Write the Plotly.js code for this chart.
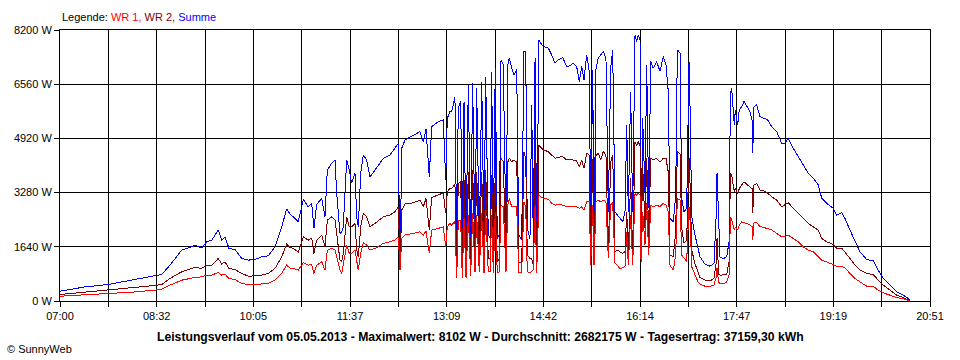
<!DOCTYPE html>
<html>
<head>
<meta charset="utf-8">
<script src="https://cdn.plot.ly/plotly-3.0.1.min.js"></script>
<style>
html,body{margin:0;padding:0;background:#fff;}
#chart{width:960px;height:360px;}
#chart .scatterlayer path.js-line{shape-rendering:crispEdges;}
</style>
</head>
<body>
<div id="chart"></div>
<script>
const time = [
"07:00:00","07:23:55","07:46:05","08:08:30","08:30:45","08:37:10","08:45:05","08:56:15","09:09:00","09:15:20",
"09:20:05","09:25:00","09:31:10","09:34:30","09:37:35","09:41:25","09:47:10","09:53:35","09:59:50","10:06:15",
"10:12:40","10:19:00","10:25:20","10:31:45","10:36:30","10:39:40","10:42:50","10:47:35","10:52:25","10:57:10",
"11:00:25","11:02:35","11:05:10","11:10:00","11:13:05","11:15:20","11:19:30","11:22:40","11:24:20","11:27:25",
"11:29:05","11:30:35","11:33:50","11:36:20","11:38:35","11:41:45","11:43:25","11:44:55","11:47:15","11:49:40",
"11:52:55","11:56:05","12:00:55","12:08:50","12:15:15","12:20:00","12:23:10","12:24:45","12:26:25","12:29:30",
"12:37:30","12:43:50","12:47:00","12:49:35","12:52:45","12:55:00","13:01:20","13:06:05","13:08:25","13:09:55",
"13:12:30","13:14:10","13:17:15","13:18:55","13:20:25","13:22:45","13:24:15","13:25:55","13:27:50","13:30:00",
"13:32:15","13:34:10","13:36:25","13:38:00","13:40:30","13:42:50","13:45:00","13:46:35","13:49:05","13:50:45",
"13:52:20","13:53:55","13:55:45","13:57:40","13:59:35","14:01:15","14:03:25","14:06:00","14:07:40","14:09:10",
"14:11:25","14:13:40","14:16:15","14:18:10","14:21:00","14:23:10","14:24:50","14:26:20","14:28:55","14:30:35",
"14:32:05","14:33:45","14:35:20","14:37:30","14:39:10","14:41:40","14:46:25","14:49:40","14:52:50","14:56:00",
"15:00:10","15:04:00","15:07:10","15:10:15","15:13:30","15:16:00","15:18:20","15:20:30","15:23:05","15:25:35",
"15:26:55","15:28:50","15:30:05","15:32:00","15:34:10","15:36:30","15:38:55","15:41:30","15:43:45","15:46:00",
"15:47:55","15:50:05","15:52:20","15:54:55","15:57:30","15:59:40","16:01:20","16:02:50","16:05:05","16:07:00",
"16:09:15","16:10:50","16:12:20","16:14:00","16:15:00","16:16:35","16:18:45","16:20:25","16:22:20","16:24:15",
"16:26:40","16:29:55","16:33:05","16:36:15","16:38:50","16:41:00","16:42:40","16:45:50","16:48:05","16:49:40",
"16:52:15","16:53:50","16:56:00","16:58:35","17:00:50","17:01:45","17:03:25","17:06:30","17:09:40","17:11:20",
"17:16:05","17:20:50","17:24:40","17:26:35","17:27:35","17:29:10","17:30:25","17:33:35","17:36:50","17:39:20",
"17:40:15","17:41:35","17:43:05","17:44:05","17:45:00","17:47:20","17:48:50","17:51:10","17:53:20","17:55:55",
"17:59:05","18:01:00","18:01:40","18:02:55","18:05:30","18:08:35","18:11:45","18:15:35","18:19:50","18:24:35",
"18:29:20","18:32:30","18:35:40","18:40:25","18:45:10","18:50:00","18:54:45","18:59:30","19:04:20","19:07:35",
"19:12:20","19:18:35","19:21:50","19:26:40","19:29:50","19:34:35","19:39:20","19:44:10","19:50:30","19:56:50",
"20:01:35","20:06:25","20:12:45","20:19:10","20:25:30","20:30:15","20:31:55"
];
const summe = [
297,427,500,630,761,803,1085,1539,1681,1610,
1792,1842,2145,1842,1943,1591,1560,1288,1236,1260,
1336,1367,1640,2245,2781,2630,2548,2397,3075,2851,
2954,2197,2924,3106,2548,3963,4166,4266,3257,2045,
2100,2245,4266,3963,3560,3863,2548,2245,3863,4418,
4266,3760,3963,4318,4418,4651,4772,933,4621,4872,
5024,5124,4821,5196,3760,5275,5427,5478,3660,5530,
5730,5730,6184,1894,5833,6033,1894,6033,1691,6539,
1791,6590,1791,6439,1791,6640,1894,6791,1994,1903,
6942,1894,7045,1894,1994,7296,7145,1994,7145,7348,
7045,6842,7000,1994,1843,7548,7548,2197,1894,5933,
1742,7348,1894,7902,7800,7699,7651,7447,7196,7296,
7366,7094,7120,7196,7094,6640,7094,6690,7447,6942,
2297,7000,1691,7045,7348,7450,7548,7348,2700,7045,
7600,2700,2600,2500,2397,2700,5327,2700,6336,2700,
8054,7851,8054,7900,1894,5530,3306,7145,2803,7245,
7045,7245,6950,7396,7145,6336,2500,2397,3205,7600,
7500,3106,2700,2800,7245,5933,2548,2000,1550,1336,
1115,1054,1136,2448,3863,2245,1336,1275,1340,1842,
6287,6439,5681,5327,5781,5327,5781,5881,6033,5900,
5730,5478,4469,5881,5933,5578,5530,5500,5275,5124,
4772,4772,4924,4621,4366,4115,3863,3712,3509,3106,
2954,2803,2600,2670,2500,2145,1791,1488,1257,1215,
933,682,479,276,176,76,0
];
const wr2 = [
197,267,327,397,470,500,682,882,1015,985,
1085,1085,1288,1115,1185,985,950,833,751,760,
782,833,985,1336,1721,1620,1591,1488,1943,1842,
1900,1439,1842,1994,1640,2448,2548,2448,2045,1236,
1200,1439,2548,2245,2245,2348,1539,1336,2245,2651,
2548,2245,2348,2548,2600,2700,2851,1136,2751,2933,
2972,3054,2851,3100,2145,3136,3206,3276,2651,3300,
3409,3409,3530,1288,3550,3609,1200,3650,1085,3900,
1200,3963,1388,3912,1288,3912,882,3963,1288,1288,
3812,1185,3912,1185,1288,4318,4215,1288,4200,4318,
4215,4266,4200,1185,1136,4518,4318,1388,1288,1288,
1085,4318,1085,4721,4650,4569,4520,4418,4318,4350,
4370,4266,4290,4266,4240,4064,4266,4015,4469,4418,
1388,4300,1085,4418,4469,4266,4518,4418,1488,4200,
4418,1488,1539,1488,1439,1488,2700,1388,3712,1388,
4821,4700,4821,4700,1488,4115,2200,4318,1900,4318,
4266,4318,4200,4318,4318,3900,1388,1340,2100,4518,
4450,2200,1750,1840,4318,3600,1539,1130,850,712,
630,609,682,1100,1900,800,782,782,800,1236,
3863,3800,3457,3306,3400,3257,3400,3509,3609,3530,
3457,3400,2651,3509,3560,3357,3340,3276,3154,3054,
2851,2900,2972,2803,2651,2500,2348,2245,2145,1894,
1791,1712,1591,1600,1488,1288,1085,933,833,800,
630,479,327,176,106,45,0
];
const wr1 = [
145,185,227,267,327,358,479,630,712,730,
782,782,863,782,812,682,650,530,500,500,
515,530,630,833,1085,1000,985,933,1155,1085,
1110,833,1085,1185,933,1539,1591,1539,1336,933,
833,1136,1691,1439,1439,1539,1236,933,1439,1761,
1691,1539,1590,1742,1791,1842,1943,933,1900,1994,
2045,2094,1994,2120,1439,2145,2197,2245,1640,2245,
2348,2297,2418,682,2430,2448,700,2500,700,2600,
750,2651,882,2600,882,2651,840,2751,882,900,
2600,860,2700,860,882,2903,2850,882,2900,3106,
2851,2851,2850,860,860,3003,2851,882,860,900,
950,2903,860,3206,3150,3106,3080,2954,2903,2910,
2903,2851,2870,2860,2851,2803,2851,2750,3003,3003,
1085,2900,1085,3003,3050,3003,3050,3003,1300,2900,
3003,1150,1085,985,1000,1050,2094,1085,2600,1085,
3257,3200,3257,3200,1185,2700,1700,2954,1388,2903,
2851,2903,2851,2954,2903,2700,1085,933,1388,3106,
3050,1388,1300,1200,2851,2450,1033,780,560,509,
448,448,479,700,1000,560,530,530,560,833,
2548,2450,2245,2145,2245,2145,2300,2397,2370,2350,
2297,2250,1842,2367,2367,2250,2230,2197,2150,2045,
1943,1960,1990,1894,1791,1640,1539,1488,1336,1236,
1185,1106,1054,1040,1000,833,682,579,448,440,
327,245,176,106,64,24,0
];
const yTickValues = [0, 1640, 3280, 4920, 6560, 8200];
const yTickLabels = ["0 W", "1640 W", "3280 W", "4920 W", "6560 W", "8200 W"];
const xTickLabels = ["07:00","08:32","10:05","11:37","13:09","14:42","16:14","17:47","19:19","20:51"];

function toMin(s) {
  const p = s.split(':').map(Number);
  return p[0] * 60 + p[1] + (p[2] || 0) / 60;
}
const xs = time.map(toMin);
const xStart = toMin(xTickLabels[0]);
const xEnd = toMin(xTickLabels[xTickLabels.length - 1]);
const nDiv = (xTickLabels.length - 1) * 2;
const xTickVals = [], xTickText = [];
for (let k = 0; k <= nDiv; k++) {
  xTickVals.push(xStart + k * (xEnd - xStart) / nDiv);
  xTickText.push(k % 2 === 0 ? xTickLabels[k / 2] : '');
}

const traces = [
  {x: xs, y: summe, name: 'Summe', type: 'scatter', mode: 'lines', line: {color: '#0000ff', width: 1}},
  {x: xs, y: wr2, name: 'WR 2', type: 'scatter', mode: 'lines', line: {color: '#800000', width: 1}},
  {x: xs, y: wr1, name: 'WR 1', type: 'scatter', mode: 'lines', line: {color: '#ff0000', width: 1}}
];

const layout = {
  width: 960, height: 360,
  margin: {l: 60, r: 30, t: 30, b: 59, pad: 0},
  paper_bgcolor: '#ffffff', plot_bgcolor: '#ffffff',
  font: {family: 'Liberation Sans, Arial, sans-serif', size: 11, color: '#000000'},
  showlegend: false,
  xaxis: {
    type: 'linear', range: [xStart, xEnd], tickmode: 'array', tickvals: xTickVals, ticktext: xTickText,
    showgrid: true, gridcolor: '#000000', gridwidth: 1, zeroline: false,
    showline: true, linecolor: '#000000', linewidth: 1, mirror: true,
    ticks: 'outside', ticklen: 5, tickcolor: '#000000', tickwidth: 1,
    tickfont: {size: 11, color: '#000000'}, fixedrange: true
  },
  yaxis: {
    range: [0, 8200], tickmode: 'array', tickvals: yTickValues, ticktext: yTickLabels,
    showgrid: true, gridcolor: '#000000', gridwidth: 1, zeroline: false,
    showline: true, linecolor: '#000000', linewidth: 1, mirror: true,
    ticks: 'outside', ticklen: 5, tickcolor: '#000000', tickwidth: 1,
    tickfont: {size: 11, color: '#000000'}, fixedrange: true
  },
  annotations: [
    {xref: 'paper', yref: 'paper', x: 0, y: 1 + 13 / 271, xanchor: 'left', yanchor: 'middle', showarrow: false,
     text: 'Legende: <span style="color:#ff0000">WR 1, </span><span style="color:#800000">WR 2, </span><span style="color:#0000ff">Summe</span>',
     font: {size: 11, color: '#000000'}},
    {xref: 'paper', yref: 'paper', x: (480 - 60) / 870, y: -36 / 271, xanchor: 'center', yanchor: 'middle', showarrow: false,
     text: '<b>Leistungsverlauf vom 05.05.2013 - Maximalwert: 8102 W - Durchschnitt: 2682175 W - Tagesertrag: 37159,30 kWh</b>',
     font: {size: 12.2, color: '#000000'}},
    {xref: 'paper', yref: 'paper', x: -55 / 870, y: -48 / 271, xanchor: 'left', yanchor: 'middle', showarrow: false,
     text: '© SunnyWeb', font: {size: 11, color: '#000000'}}
  ]
};

Plotly.newPlot('chart', traces, layout, {displayModeBar: false, staticPlot: true});
</script>
</body>
</html>
